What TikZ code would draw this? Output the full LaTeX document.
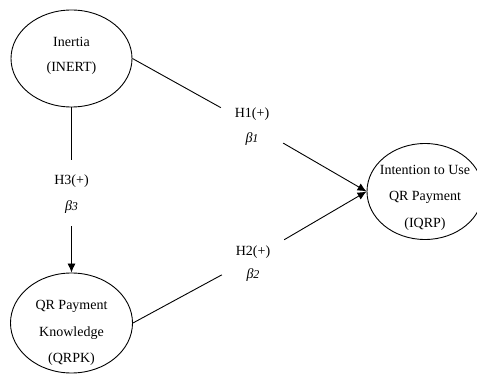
\documentclass[tikz,border=0pt]{standalone}
\usepackage{fontspec}
\setmainfont{Liberation Serif}
\usetikzlibrary{shapes.geometric,arrows.meta}
\newcommand{\betalbl}[1]{\textit{β}{\fontsize{12}{25}\selectfont\itshape #1}}
\begin{document}
\begin{tikzpicture}[x=1pt,y=-1pt,
  construct/.style={draw,ellipse,line width=0.9pt,inner sep=0pt},
  ctext/.style={align=center,inner sep=0pt,font=\fontsize{14}{26.5}\selectfont},
  hyp/.style={rectangle,minimum width=62pt,minimum height=66pt,inner sep=0pt},
  htext/.style={align=center,inner sep=0pt,font=\fontsize{14}{25}\selectfont},
  link/.style={line width=0.9pt},
  arr/.style={link,-{Latex[length=9pt,width=8pt]}}]
\useasboundingbox (0,0) rectangle (477,374);
\node[construct,minimum width=121pt,minimum height=97pt] (inert) at (71.5,58.5) {};
\node[ctext,font=\fontsize{14}{25}\selectfont] (inertt) at (71.5,56) {Inertia\\(INERT)};
\node[construct,minimum width=122pt,minimum height=100pt] (qrpk) at (71.5,323) {};
\node[ctext] (qrpkt) at (71.5,333) {QR Payment\\Knowledge\\(QRPK)};
\node[construct,minimum width=116pt,minimum height=96pt] (iqrp) at (425,191.5) {};
\node[ctext] (iqrpt) at (425,197.5) {Intention to Use\\QR Payment\\(IQRP)};
\node[hyp] (h1) at (252,125) {};
\node[htext] (h1t) at (252,127) {H1(+)\\\betalbl{1}};
\node[hyp] (h2) at (253,258) {};
\node[htext,font=\fontsize{14}{23}\selectfont] (h2t) at (253,264) {H2(+)\\\betalbl{2}};
\node[hyp] (h3) at (71.5,193) {};
\node[htext,font=\fontsize{14}{26}\selectfont] (h3t) at (71.5,194.5) {H3(+)\\\betalbl{3}};
\draw[link] (inert.east) -- (h1);
\draw[arr] (h1) -- (iqrp.west);
\draw[link] (qrpk.east) -- (h2);
\draw[arr] (h2) -- (iqrp.west);
\draw[link] (inert) -- (h3);
\draw[arr] (h3) -- (qrpk);
\end{tikzpicture}
\end{document}
